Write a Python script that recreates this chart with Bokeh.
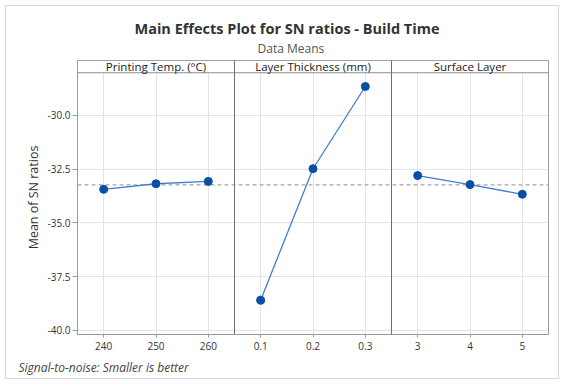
from bokeh.plotting import figure
from bokeh.models import FactorRange, Range1d, FixedTicker, NumeralTickFormatter, Span, Title
from bokeh.core.properties import value
from bokeh.embed import file_html
from bokeh.resources import INLINE

# ---- data ----
factor_names = ["Printing Temp. (°C)", "Layer Thickness (mm)", "Surface Layer"]
temp_levels = ["240", "250", "260"]
thick_levels = ["0.1", "0.2", "0.3"]
layer_levels = ["3", "4", "5"]
temp_sn = [-33.44, -33.18, -33.07]
thick_sn = [-38.60, -32.48, -28.65]
layer_sn = [-32.80, -33.22, -33.67]
y_ticks = [-30.0, -32.5, -35.0, -37.5, -40.0]

levels = [temp_levels, thick_levels, layer_levels]
values = [temp_sn, thick_sn, layer_sn]
all_levels = temp_levels + thick_levels + layer_levels
all_values = temp_sn + thick_sn + layer_sn
grand_mean = sum(all_values) / len(all_values)

FONT = "Open Sans"
Y_BOTTOM, Y_DATA_TOP, Y_TOP = -40.20, -28.01, -27.44

p = figure(width=554, height=374,
           x_range=FactorRange(factors=all_levels),
           y_range=Range1d(Y_BOTTOM, Y_TOP),
           output_backend="svg", toolbar_location=None,
           min_border_left=71, min_border_right=12, min_border_top=54, min_border_bottom=46)
p.styles = {"border": "1px solid #d8d8d8", "margin-left": "5px", "margin-top": "5px"}
p.background_fill_color = "white"
p.border_fill_color = "white"
p.outline_line_color = "#9a9a9a"

# titles
p.title.text = "Main Effects Plot for SN ratios - Build Time"
p.title.align = "left"
p.title.offset = 57
p.title.text_font = FONT
p.title.text_font_size = "14.5px"
p.title.text_font_style = "bold"
p.title.text_color = "#333333"
p.title.standoff = -8
sub = Title(text="Data Means", align="left", offset=180, text_font=FONT,
            text_font_size="12px", text_font_style="normal", text_color="#555555", standoff=8)
p.add_layout(sub, "above")
foot = Title(text="Signal-to-noise: Smaller is better", align="left", offset=-59, text_font=FONT,
             text_font_size="12px", text_font_style="italic", text_color="#444444", standoff=9)
p.add_layout(foot, "below")

# axes
p.yaxis.ticker = FixedTicker(ticks=y_ticks)
p.yaxis.formatter = NumeralTickFormatter(format="0.0")
p.yaxis.axis_label = "Mean of SN ratios"
p.yaxis.axis_label_text_font = FONT
p.yaxis.axis_label_text_font_size = "12.5px"
p.yaxis.axis_label_text_font_style = "normal"
p.yaxis.axis_label_text_color = "#333333"
p.yaxis.axis_label_standoff = 3
for ax in (p.xaxis, p.yaxis):
    ax.major_label_text_font = FONT
    ax.major_label_text_font_size = "10px"
    ax.major_label_text_color = "#333333"
    ax.axis_line_color = "#9a9a9a"
    ax.major_tick_line_color = "#9a9a9a"
    ax.major_tick_in = 0
    ax.minor_tick_line_color = None
p.yaxis.major_tick_out = 5
p.yaxis.major_label_standoff = 2
p.xaxis.major_tick_out = 3
p.xaxis.major_label_standoff = 4

p.xgrid.grid_line_color = "#e4e4e4"
p.ygrid.grid_line_color = "#e4e4e4"

# mean reference line
p.add_layout(Span(location=grand_mean, dimension="width", line_color="#a6a6a6",
                  line_dash="4 3", line_width=1.2, level="underlay"))

# panel headers and dividers
starts = []
pos = 0
for lv in levels:
    starts.append(pos)
    pos += len(lv)
ends = [s + len(lv) for s, lv in zip(starts, levels)]
p.quad(left=starts, right=ends, bottom=Y_DATA_TOP, top=Y_TOP,
       fill_color="white", line_color="#8c8c8c", line_width=1)
p.text(x=[lv[len(lv) // 2] for lv in levels], y=[(Y_DATA_TOP + Y_TOP) / 2] * len(levels),
       text=factor_names, text_align="center", text_baseline="middle",
       text_font=value(FONT), text_font_size="11.5px", text_color="#222222")
for e in ends[:-1]:
    p.add_layout(Span(location=e, dimension="height", line_color="#707070", line_width=1))

# main effects
for lv, vals in zip(levels, values):
    p.line(x=lv, y=vals, line_color="#3f80cc", line_width=1.3)
    p.scatter(x=lv, y=vals, size=8, fill_color="#0a4fa3", line_color="#0a4fa3")

open("out.html", "w").write(file_html(p, INLINE))
